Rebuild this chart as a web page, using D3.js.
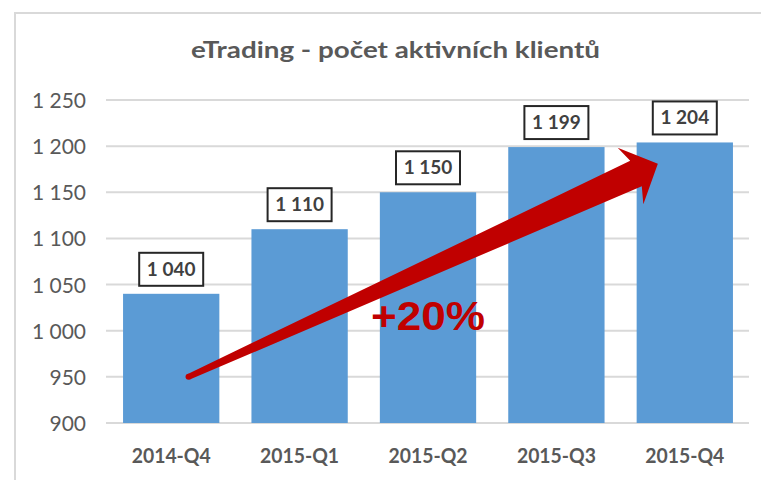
<!DOCTYPE html>
<html><head><meta charset="utf-8">
<script src="https://cdn.jsdelivr.net/npm/d3@7/dist/d3.min.js"></script>
<style>html,body{margin:0;padding:0;background:#fff;}</style>
</head><body>
<svg id="c" width="761" height="480"></svg>
<script>
const categories = ["2014-Q4","2015-Q1","2015-Q2","2015-Q3","2015-Q4"];
const values = [1040,1110,1150,1199,1204];
const yTicks = [900,950,1000,1050,1100,1150,1200,1250];
const title = "eTrading - počet aktivních klientů";
const growthLabel = "+20%";

const fmt = v => d3.format(",")(v).replace(/,/g, " ");
const svg = d3.select("#c");
const x = d3.scaleBand().domain(categories).range([107, 749]).paddingInner(0.25).paddingOuter(0.125);
const y = d3.scaleLinear().domain([900, 1250]).range([423, 100]);

// frame
svg.append("rect").attr("x",15).attr("y",13).attr("width",800).attr("height",500)
  .attr("fill","#fff").attr("stroke","#d9d9d9").attr("stroke-width",2);

// title
svg.append("text").attr("x",191).attr("y",58)
  .attr("font-family","Lato").attr("font-weight","bold").attr("font-size",22)
  .attr("textLength",409).attr("lengthAdjust","spacingAndGlyphs")
  .attr("fill","#595959").text(title);

// gridlines
svg.append("g").selectAll("line").data(yTicks).join("line")
  .attr("x1",106).attr("x2",749).attr("y1",d=>y(d)).attr("y2",d=>y(d))
  .attr("stroke","#d9d9d9").attr("stroke-width",2);

// y axis labels
const yAxis = d3.axisLeft(y).tickValues(yTicks).tickFormat(fmt).tickSize(0).tickPadding(0);
const ya = svg.append("g").attr("transform","translate(86,0)").call(yAxis);
ya.select(".domain").remove();
ya.selectAll("text").attr("font-family","Lato").attr("font-size",21).attr("fill","#595959").attr("dy","0.36em");

// bars
svg.append("g").selectAll("rect").data(values).join("rect")
  .attr("x",(d,i)=>x(categories[i])).attr("width",x.bandwidth())
  .attr("y",d=>y(d)).attr("height",d=>y(900)-y(d)).attr("fill","#5b9bd5");

// x axis labels
const xAxis = d3.axisBottom(x).tickSize(0).tickPadding(0);
const xa = svg.append("g").attr("transform","translate(0,423)").call(xAxis);
xa.select(".domain").remove();
xa.selectAll("text").attr("font-family","Lato").attr("font-weight","bold").attr("font-size",21)
  .attr("fill","#595959").attr("dy","40").attr("textLength",79).attr("lengthAdjust","spacingAndGlyphs");

// data labels
const lg = svg.append("g").selectAll("g").data(values).join("g")
  .attr("transform",(d,i)=>`translate(${x(categories[i])+x.bandwidth()/2},${y(d)-8})`);
lg.append("rect").attr("x",-32).attr("y",-33).attr("width",64).attr("height",33)
  .attr("fill","#fff").attr("stroke","#262626").attr("stroke-width",2);
lg.append("text").attr("y",-10).attr("text-anchor","middle")
  .attr("font-family","Lato").attr("font-weight","bold").attr("font-size",19)
  .attr("fill","#404040").text(d=>fmt(d));

// growth arrow (annotation anchored to data space)
const tail = [x(categories[0]) + x.bandwidth()*0.68, y(950)];
const tip = [x(categories[4]) + x.bandwidth()*0.22, y(1181)];
const dx = tip[0]-tail[0], dy = tip[1]-tail[1], L = Math.hypot(dx,dy);
const u = [dx/L, dy/L], n = [-u[1], u[0]];
const pt = (base, a, b) => [base[0]+u[0]*a+n[0]*b, base[1]+u[1]*a+n[1]*b];
const poly = [
  pt(tail,0,-3), pt(tip,-24,-14), pt(tip,-30,-31), tip, pt(tip,-30,31), pt(tip,-24,14), pt(tail,0,3)
];
svg.append("path").attr("d","M"+poly.map(p=>p.join(",")).join("L")+"Z").attr("fill","#c00000");
svg.append("circle").attr("cx",tail[0]).attr("cy",tail[1]).attr("r",3).attr("fill","#c00000");

svg.append("text").attr("x",371).attr("y",330)
  .attr("font-family","Liberation Sans").attr("font-weight","bold").attr("font-size",40)
  .attr("textLength",114).attr("lengthAdjust","spacingAndGlyphs")
  .attr("fill","#c00000").text(growthLabel);
</script>
</body></html>
